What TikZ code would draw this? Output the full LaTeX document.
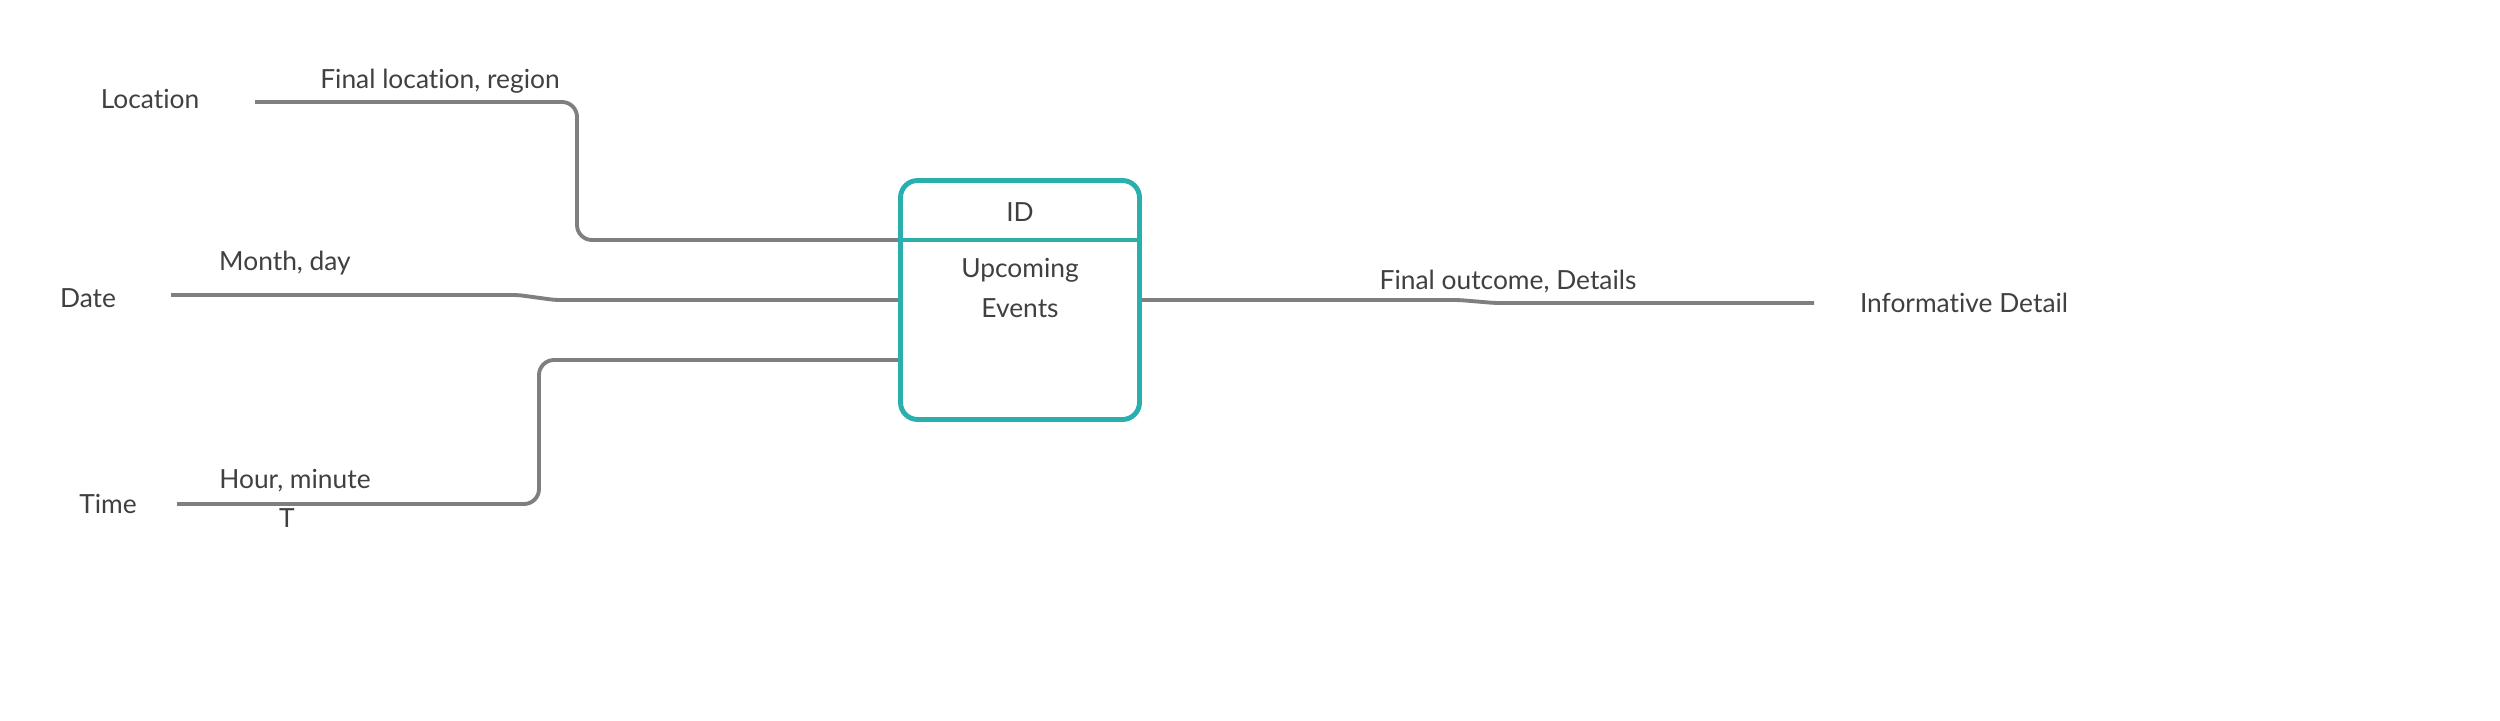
\documentclass[tikz,border=0pt]{standalone}
\usepackage{fontspec}
\setmainfont[Ligatures=NoCommon]{Lato}
\definecolor{txtgray}{HTML}{404040}
\definecolor{wiregray}{HTML}{7F7F7F}
\definecolor{boxteal}{HTML}{29AFAD}

\begin{document}
\begin{tikzpicture}[x=0.02cm, y=-0.02cm,
lbl/.style={font=\fontsize{15}{18}\selectfont, text=txtgray, inner sep=0pt},
wire/.style={draw=wiregray, line width=2.2pt, rounded corners=0.3cm},
entity/.style={draw=boxteal, line width=2.8pt, rounded corners=0.34cm,
  minimum width=4.78cm, minimum height=4.78cm, inner sep=0pt}
]
\useasboundingbox (0,0) rectangle (2500,720);

\node[lbl] (location) at (150,99) {Location};
\node[lbl] (date) at (88,298) {Date};
\node[lbl] (time) at (108,504) {Time};
\node[lbl] (info) at (1964,303) {Informative Detail};

\node[entity] (events) at (1020,300) {};
\draw[boxteal, line width=2.8pt] ([yshift=1.2cm]events.west) -- ([yshift=1.2cm]events.east);
\node[lbl] (id) at (1020,212) {ID};
\node[lbl, align=center, font=\fontsize{15}{22.7}\selectfont] (name) at (1020,288) {Upcoming\\Events};

\coordinate (loc-in) at (255,102);
\coordinate (date-in) at (171,295);
\coordinate (time-in) at (177,504);
\coordinate (info-in) at (1814,303);

\draw[wire] (loc-in) -- (577,102) -- (577,240) -- ([yshift=1.2cm]events.west);
\draw[wire, rounded corners=0.1cm] (date-in) -- (518,295) -- (555,300) -- (events.west);
\draw[wire] (time-in) -- (539,504) -- (539,360) -- ([yshift=-1.2cm]events.west);
\draw[wire, rounded corners=0.1cm] (events.east) -- (1459,300) -- (1495,303) -- (info-in);

\node[lbl] (loc-lbl) at (440,81) {Final location, region};
\node[lbl] (date-lbl) at (285,263) {Month, day};
\node[lbl] (time-lbl) at (295,481) {Hour, minute};
\node[lbl] (cursor) at (287,518) {T};
\node[lbl] (info-lbl) at (1508,282) {Final outcome, Details};

\end{tikzpicture}
\end{document}
